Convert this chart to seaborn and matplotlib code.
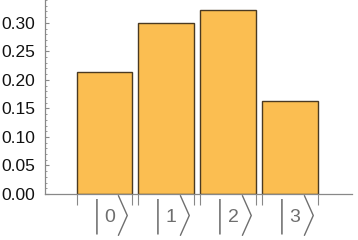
import matplotlib
matplotlib.use("Agg")
import matplotlib.pyplot as plt
import seaborn as sns
import pandas as pd
from matplotlib.ticker import MultipleLocator, FixedLocator
from matplotlib.transforms import ScaledTranslation, offset_copy

states = ["0", "1", "2", "3"]
probs = [0.214, 0.300, 0.322, 0.163]
yticks = [0.00, 0.05, 0.10, 0.15, 0.20, 0.25, 0.30]

df = pd.DataFrame({"state": states, "p": probs})

sns.set_style("ticks")
plt.rcParams['font.family'] = ['Liberation Sans', 'DejaVu Sans']

fig = plt.figure(figsize=(3.58, 2.4), dpi=100)
ax = fig.add_axes([0.1257, 0.1917, 0.983 - 0.1257, 0.8083])

bw = 0.9
sns.barplot(data=df, x="state", y="p", color="#FBBE51", saturation=1,
            edgecolor="#4a3a22", linewidth=1.0, width=bw, ax=ax)

ax.set_xlim(-0.96, 4.0)
ax.set_ylim(0, 0.34)
ax.set_xlabel("")
ax.set_ylabel("")

# y axis ticks
ax.yaxis.set_major_locator(FixedLocator(yticks))
ax.yaxis.set_minor_locator(MultipleLocator(0.01))
ax.set_yticklabels([f"{v:.2f}" for v in yticks])
ax.tick_params(axis="y", which="major", direction="in", length=3, width=0.8,
               color="#888888", labelsize=12.5, labelcolor="#111111", pad=7)
ax.tick_params(axis="y", which="minor", direction="in", length=1.6, width=0.6,
               color="#888888")

# x axis: ket labels at centers, tick marks at bar edges
ket_color = "#6e6e6e"
ax.set_xticks(range(len(states)))
ax.set_xticklabels(states)
edges = []
for i in range(len(states)):
    edges += [i - bw / 2, i + bw / 2]
ax.xaxis.set_minor_locator(FixedLocator(edges))
ax.tick_params(axis="x", which="major", length=0, labelsize=14,
               labelcolor=ket_color, pad=10.5)
ax.tick_params(axis="x", which="minor", direction="out", length=8, width=0.8,
               color="#888888")
for lab in ax.get_xticklabels():
    lab.set_transform(lab.get_transform() + ScaledTranslation(3.5 / 72, 0, fig.dpi_scale_trans))

# ket delimiters
xtrans = ax.get_xaxis_transform()
for i in range(len(states)):
    ax.text(i, 0, "|", transform=offset_copy(xtrans, fig, x=-2.2, y=-22, units="dots"),
            ha="right", va="center", fontsize=25, family=["DejaVu Sans"],
            fontweight=200, color=ket_color, clip_on=False)
    ax.text(i, 0, r"$\rangle$", transform=offset_copy(xtrans, fig, x=9.6, y=-22, units="dots"),
            ha="left", va="center", fontsize=25, math_fontfamily="cm",
            color=ket_color, clip_on=False)

for s in ["top", "right"]:
    ax.spines[s].set_visible(False)
for s in ["left", "bottom"]:
    ax.spines[s].set_color("#888888")
    ax.spines[s].set_linewidth(0.9)

fig.savefig("out.png", dpi=100)
